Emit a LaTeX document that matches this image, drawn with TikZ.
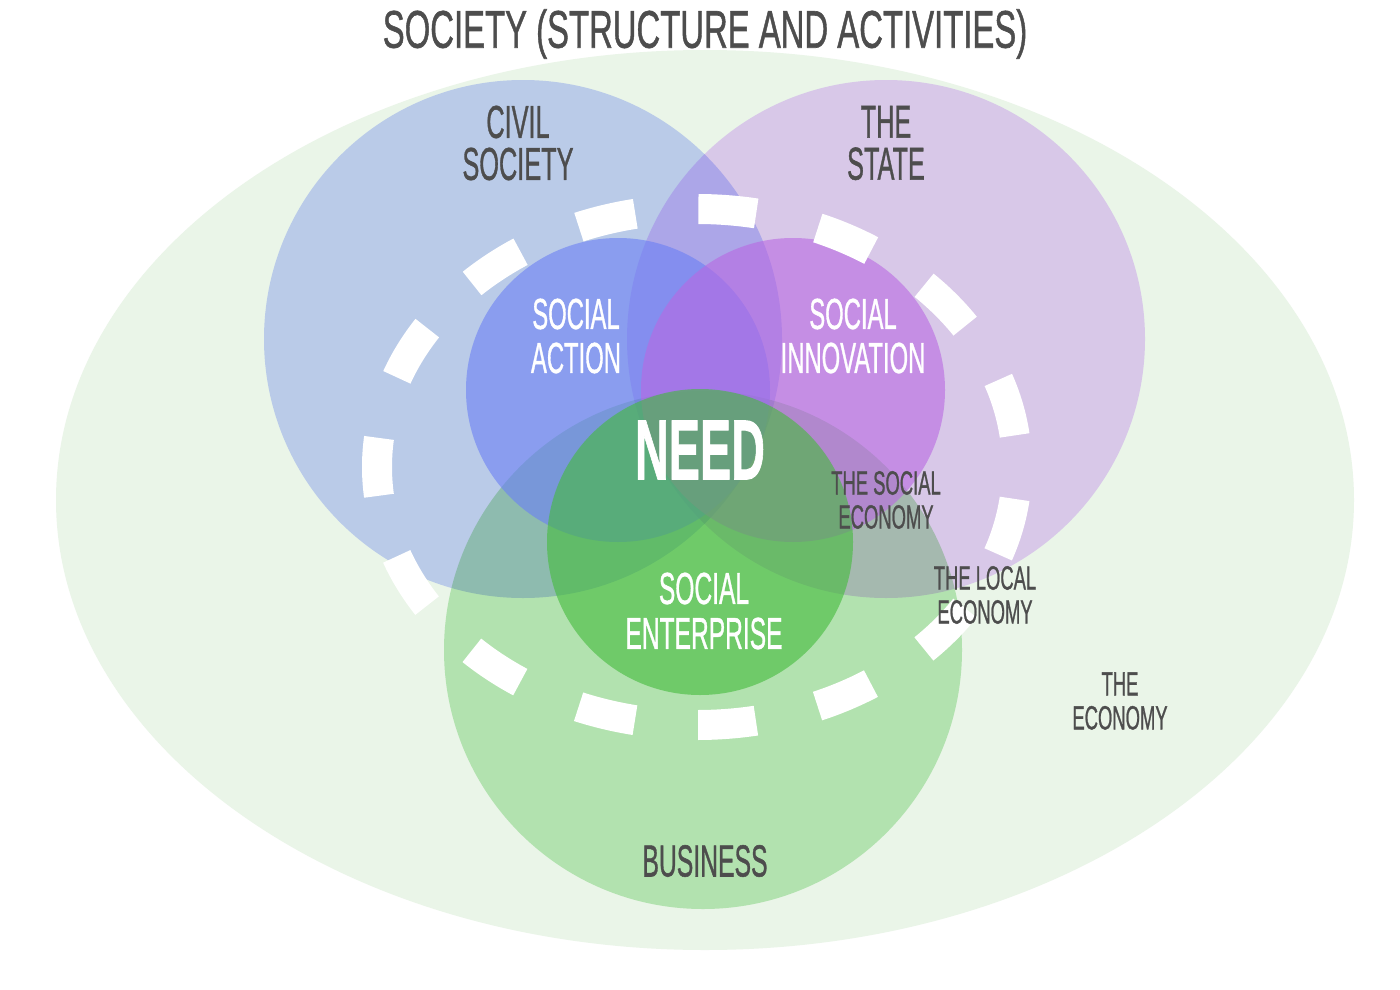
\documentclass[tikz,border=0pt]{standalone}
\usepackage{fontspec}
\setmainfont{Liberation Sans}[FakeBold=1.2]
\usepackage{graphicx}
\usetikzlibrary{shapes.geometric}
\definecolor{econ}{HTML}{EAF5E8}
\definecolor{civilc}{RGB}{203,212,255}
\definecolor{statec}{RGB}{236,209,255}
\definecolor{busc}{RGB}{195,236,193}
\definecolor{actc}{RGB}{106,127,245}
\definecolor{innc}{RGB}{185,104,226}
\definecolor{entc}{RGB}{67,187,59}
\definecolor{txt}{HTML}{4D4D4D}
\newcommand\cnd[2][0.55]{\scalebox{#1}[1]{#2}}
\tikzset{
  outercirc/.style={circle, minimum size=518pt, inner sep=0pt, fill=#1},
  innercirc/.style={circle, minimum size=304pt, inner sep=0pt, fill=#1, fill opacity=0.6},
  lab/.style={inner sep=0pt, align=center, text=txt},
  wlab/.style={inner sep=0pt, align=center, text=white},
  ring/.style={white, line width=30pt, dash pattern=on 58pt off 63.4pt, dash phase=89.7pt}
}
\begin{document}
\begin{tikzpicture}[x=1pt,y=-1pt]
\useasboundingbox (0,0) rectangle (1400,990);
\fill[white] (0,0) rectangle (1400,990);
\node[ellipse, minimum width=1298pt, minimum height=900pt, inner sep=0pt, fill=econ] (economy) at (705,500) {};
\begin{scope}[blend mode=multiply]
\node[outercirc=civilc] (civil) at (523,339) {};
\node[outercirc=statec] (state) at (886,339) {};
\node[outercirc=busc] (business) at (703,650) {};
\end{scope}
\node[innercirc=actc] (action) at (618,390) {};
\node[innercirc=innc] (innovation) at (793,390) {};
\node[innercirc=entc, minimum size=306pt] (enterprise) at (700,542) {};
\coordinate (ringc) at (697,467);
\draw[ring] (ringc) ellipse [x radius=320pt, y radius=258pt];
% labels
\node[lab, font=\fontsize{53pt}{53pt}\selectfont] (title) at (705,34) {\cnd[0.62]{SOCIETY (STRUCTURE AND ACTIVITIES)}};
\node[lab, font=\fontsize{46pt}{42pt}\selectfont] (civill) at (518,143) {\cnd{CIVIL}\\\cnd{SOCIETY}};
\node[lab, font=\fontsize{46pt}{42pt}\selectfont] (statel) at (886,143) {\cnd{THE}\\\cnd{STATE}};
\node[wlab, font=\fontsize{43.3pt}{44pt}\selectfont] (actionl) at (576,336) {\cnd{SOCIAL}\\\cnd{ACTION}};
\node[wlab, font=\fontsize{43.3pt}{44pt}\selectfont] (innovationl) at (853,336) {\cnd{SOCIAL}\\\cnd{INNOVATION}};
\node[wlab, font=\fontsize{85pt}{85pt}\selectfont\bfseries] (need) at (700,450) {\cnd{NEED}};
\node[lab, font=\fontsize{33.5pt}{34pt}\selectfont] (socecon) at (886,500) {\cnd{THE SOCIAL}\\\cnd{ECONOMY}};
\node[lab, font=\fontsize{33.5pt}{34pt}\selectfont] (localecon) at (985,595) {\cnd{THE LOCAL}\\\cnd{ECONOMY}};
\node[lab, font=\fontsize{33.5pt}{34pt}\selectfont] (econl) at (1120,701) {\cnd{THE}\\\cnd{ECONOMY}};
\node[wlab, font=\fontsize{44.7pt}{45pt}\selectfont] (enterprisel) at (704,611) {\cnd{SOCIAL}\\\cnd{ENTERPRISE}};
\node[lab, font=\fontsize{45pt}{45pt}\selectfont] (businessl) at (705,861) {\cnd{BUSINESS}};
\end{tikzpicture}
\end{document}
